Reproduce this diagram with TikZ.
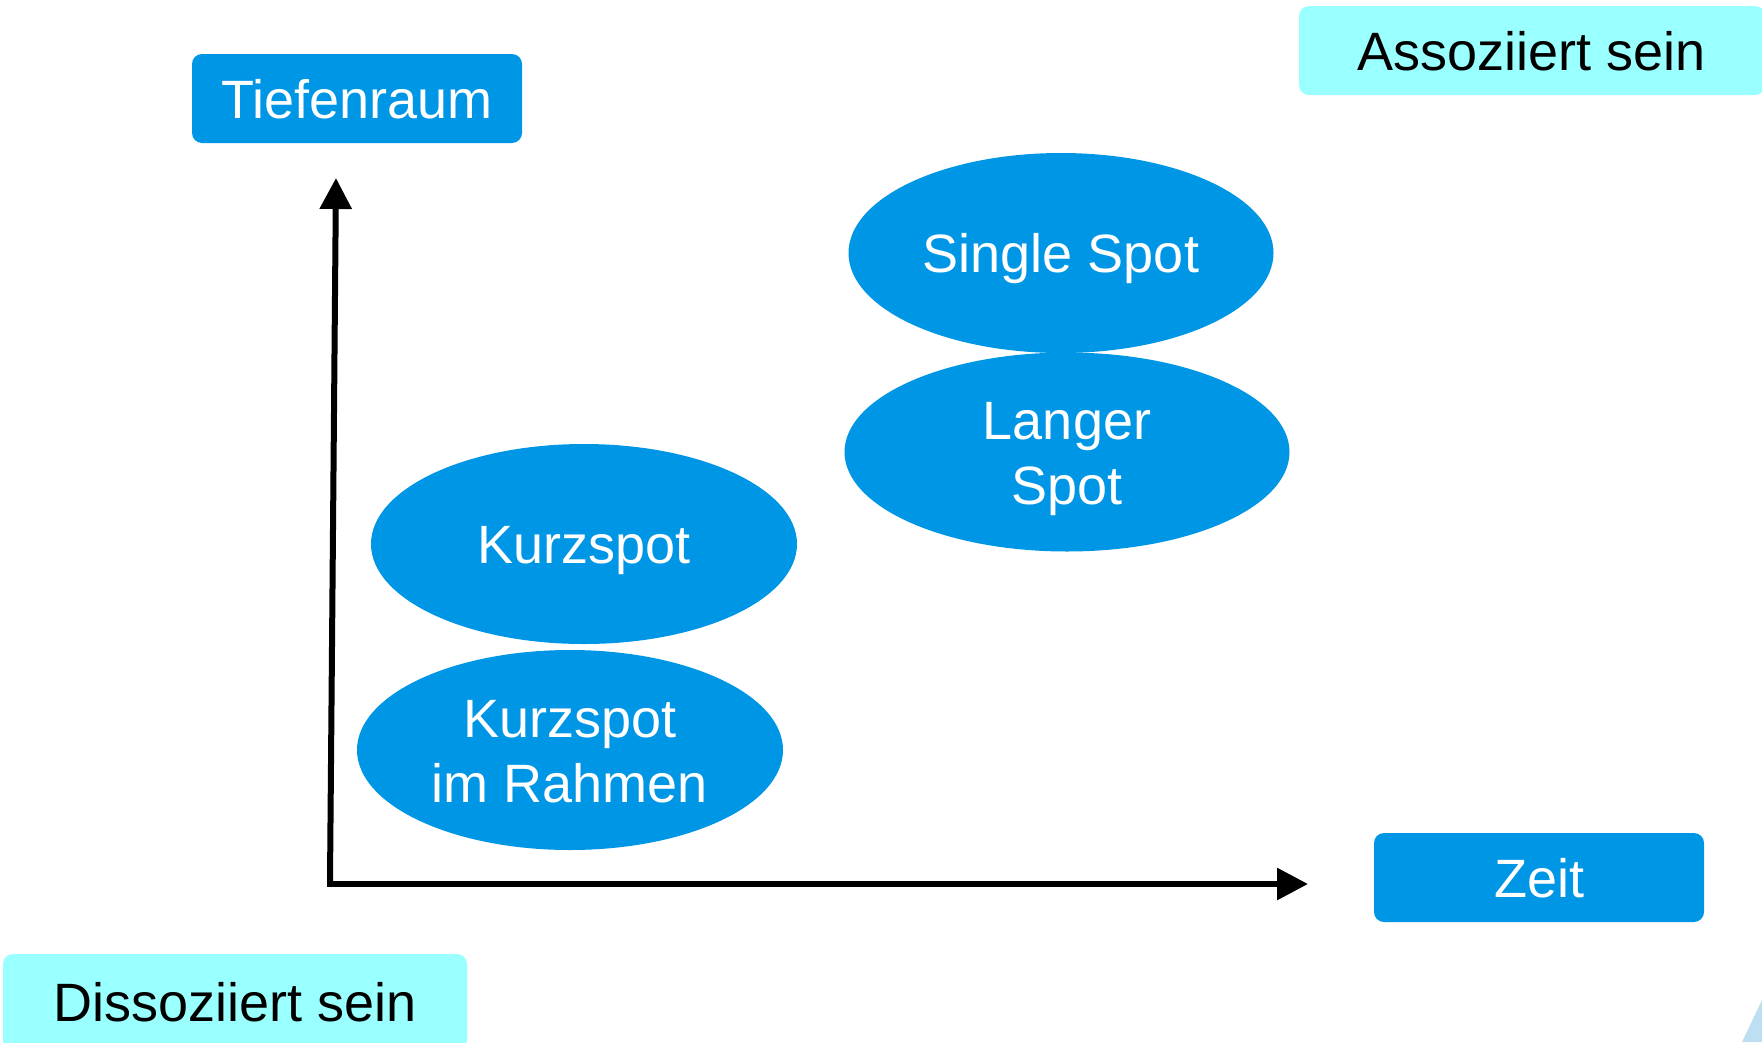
\documentclass[tikz,border=0pt]{standalone}
\usepackage{fontspec}
\setmainfont{Liberation Sans}
\usetikzlibrary{shapes.geometric,arrows.meta}
\definecolor{spotblue}{RGB}{0,150,230}
\definecolor{paleaqua}{RGB}{153,255,255}
\definecolor{edgeblue}{RGB}{190,222,242}
\tikzset{
  bigtext/.style={font=\fontsize{54}{65}\selectfont, text height=39pt, text depth=0pt, align=center},
  labelbox/.style={bigtext, draw=none, fill=spotblue, text=white, rounded corners=10pt, inner sep=0pt},
  polebox/.style={bigtext, draw=none, fill=paleaqua, text=black, rounded corners=10pt, inner sep=0pt},
  spot/.style={bigtext, ellipse, draw=none, fill=spotblue, text=white, inner sep=0pt},
  twoline/.style={text height=104pt, text depth=0pt},
  axis/.style={line width=6pt, line cap=butt, line join=miter, -{Triangle[length=31pt,width=31pt]}}
}
\begin{document}
\begin{tikzpicture}[x=1pt,y=-1pt]
  \useasboundingbox (0,0) rectangle (1762,1042);
  \fill[white] (0,0) rectangle (1762,1042);

  % pale sliver in the lower right corner
  \fill[edgeblue] (1742,1042) -- (1762,1000) -- (1762,1042) -- cycle;

  % corner labels
  \node[labelbox, minimum width=330pt, minimum height=89pt] (tiefe) at (357,98.5) {Tiefenraum};
  \node[polebox, minimum width=466pt, minimum height=89pt] (assoz) at (1532,50.5) {Assoziiert sein};
  \node[polebox, minimum width=464pt, minimum height=96pt] (dissoz) at (235,1002) {Dissoziiert sein};
  \node[labelbox, minimum width=330pt, minimum height=89pt] (zeit) at (1539,877.5) {Zeit};

  % axes
  \coordinate (origin) at (330,884);
  \coordinate (ytip) at (336,178);
  \coordinate (xtip) at (1308,884);
  \draw[axis] ([xshift=-3pt]origin) -- (xtip);
  \draw[axis] ([yshift=3pt]origin) -- (ytip);

  % spots
  \node[spot, minimum width=425pt, minimum height=200pt] (single) at (1061,253) {Single Spot};
  \node[spot, twoline, minimum width=445pt, minimum height=199pt] (langer) at (1067,452) {Langer\\Spot};
  \node[spot, minimum width=426pt, minimum height=200pt] (kurz) at (584,544) {Kurzspot};
  \node[spot, twoline, minimum width=426pt, minimum height=200pt] (rahmen) at (570,750) {Kurzspot\\im Rahmen};
\end{tikzpicture}
\end{document}
